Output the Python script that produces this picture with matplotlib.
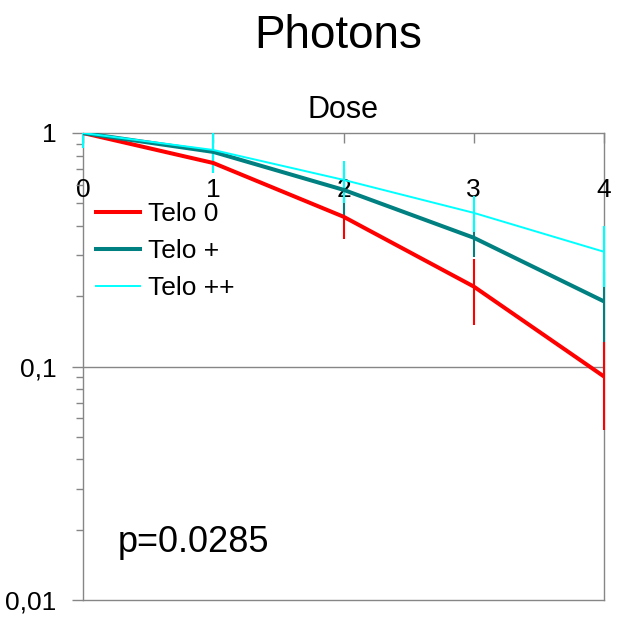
import numpy as np
import matplotlib
matplotlib.use('Agg')
from matplotlib import pyplot as plt
from matplotlib.ticker import LogLocator, FixedLocator, NullFormatter
from matplotlib.transforms import Bbox, TransformedBbox

plt.rcParams['font.family'] = ['Liberation Sans', 'DejaVu Sans']

# data
dose = [0, 1, 2, 3, 4]
telo0 = [1.0, 0.744, 0.438, 0.22, 0.0906]
telo0_err = [0.0, 0.05, 0.086, 0.07, 0.037]
telo_p = [1.0, 0.83, 0.571, 0.356, 0.19]
telo_p_err = [0.0, 0.1, 0.133, 0.063, 0.063]
telo_pp = [1.0, 0.846, 0.63, 0.455, 0.31]
telo_pp_err = [0.14, 0.17, 0.13, 0.08, 0.09]
series_names = ['Telo 0', 'Telo +', 'Telo ++']
y_ticks = [1, 0.1, 0.01]
y_tick_labels = ['1', '0,1', '0,01']

fig = plt.figure(figsize=(6.19, 6.17), dpi=100)
ax = fig.add_axes([83 / 619, 1 - 600 / 617, 521 / 619, 467 / 617])

ax.set_yscale('log')
ax.set_ylim(0.01, 1)
ax.set_xlim(0, 4)

# clip box slightly wider than the axes so the bars at x=0 and x=4 show fully
clip = TransformedBbox(Bbox([[-0.05, 0.01], [4.05, 1]]), ax.transData)

handles = []
for y, e, c, lw, name in [(telo0, telo0_err, '#ff0000', 2.9, series_names[0]),
                          (telo_p, telo_p_err, '#008080', 2.9, series_names[1]),
                          (telo_pp, telo_pp_err, '#00ffff', 1.4, series_names[2])]:
    cont = ax.errorbar(dose, y, yerr=e, color=c, lw=lw, elinewidth=1.5, label=name, zorder=3)
    for col in cont[2]:
        col.set_clip_box(clip)
    handles.append(cont[0])

ax.yaxis.set_major_locator(FixedLocator(y_ticks))
ax.set_yticklabels(y_tick_labels)
ax.yaxis.set_minor_locator(LogLocator(base=10, subs=np.arange(2, 10)))
ax.yaxis.set_minor_formatter(NullFormatter())
ax.tick_params(axis='y', which='major', direction='out', length=8, width=1, color='#868686',
               labelsize=19, pad=11)
ax.tick_params(axis='y', which='minor', direction='out', length=5, width=1, color='#868686')

ax.set_xticks(dose)
ax.tick_params(axis='x', top=True, bottom=False, labeltop=True, labelbottom=False,
               direction='in', length=7, width=1, color='#868686', labelsize=19, pad=-50)
ax.xaxis.set_label_position('top')
ax.set_xlabel('Dose', fontsize=22, labelpad=11)

ax.axhline(0.1, color='#868686', lw=1, zorder=0)
for s in ax.spines.values():
    s.set_color('#868686')
    s.set_linewidth(1)
    s.set_zorder(1)

ax.legend(handles=handles, labels=series_names, loc='upper left',
          bbox_to_anchor=(96 / 619, 1 - 202 / 617), bbox_transform=fig.transFigure,
          frameon=False, fontsize=19, handlelength=1.67, handletextpad=0.3,
          labelspacing=0.5, borderpad=0, borderaxespad=0)

ax.text(35 / 521, 0.103, 'p=0.0285', transform=ax.transAxes,
        fontsize=26, va='baseline', ha='left')

fig.suptitle('Photons', x=0.547, y=1 - 48 / 617, va='baseline', fontsize=33)

fig.savefig('out.png', dpi=100)
